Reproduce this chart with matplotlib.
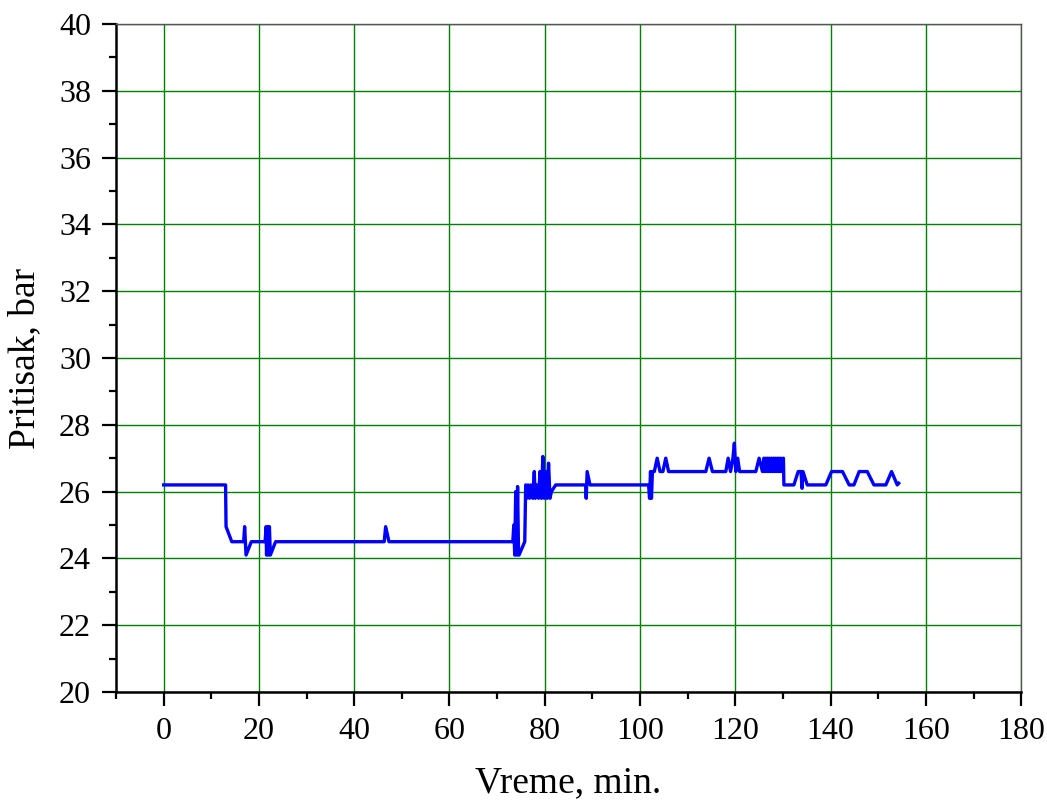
import matplotlib.pyplot as plt
from matplotlib.ticker import MultipleLocator

# pressure trace (time in min, pressure in bar)
vreme = [0, 13.0, 13.1, 14.3, 16.8, 17.0, 17.3, 18.4,
         21.3, 21.5, 21.6, 21.8, 22.0, 22.2, 22.4, 23.5,
         46.3, 46.6, 47.3,
         73.3, 73.5, 73.7, 73.9, 74.1, 74.3, 74.5, 74.6, 75.8, 76.0,
         76.2, 76.5, 76.8, 77.1, 77.5, 77.8, 78.0, 78.3, 78.7, 79.0,
         79.3, 79.6, 79.9, 80.2, 80.5, 80.8, 81.1, 81.4, 82.3,
         88.6, 88.7, 88.9, 89.5,
         101.8, 102.0, 102.2, 102.4, 102.6, 103.0, 103.6, 104.2, 104.8,
         105.4, 106.0, 113.8, 114.5, 115.2,
         118.0, 118.5, 119.0, 119.5, 119.8, 120.1, 120.5, 120.9, 121.3,
         124.3, 125.0, 125.7,
         126.0, 126.2, 126.4, 126.6, 126.8, 127.0, 127.2, 127.4, 127.6,
         127.8, 128.0, 128.2, 128.4, 128.6, 128.8, 129.0, 129.2, 129.4,
         129.6, 129.8, 130.1, 130.2,
         132.3, 133.2, 133.8, 134.0, 134.2, 135.1,
         139.0, 140.2, 142.5, 143.9, 144.9, 146.0, 147.7, 149.1,
         151.6, 152.8, 154.0, 154.3]
pritisak = [26.2, 26.2, 24.95, 24.5, 24.5, 24.95, 24.1, 24.5,
            24.5, 24.95, 24.1, 24.95, 24.1, 24.95, 24.1, 24.5,
            24.5, 24.95, 24.5,
            24.5, 25.0, 24.1, 26.0, 24.1, 26.15, 24.1, 24.1, 24.5, 26.2,
            25.8, 26.2, 25.8, 26.2, 25.8, 26.6, 25.8, 26.2, 25.8, 26.6,
            25.8, 27.05, 25.8, 26.6, 25.8, 26.85, 25.8, 26.0, 26.2,
            26.2, 25.8, 26.6, 26.2,
            26.2, 25.8, 26.6, 25.8, 26.6, 26.6, 27.0, 26.6, 26.6,
            27.0, 26.6, 26.6, 27.0, 26.6,
            26.6, 27.0, 26.6, 27.0, 27.45, 26.6, 27.0, 26.6, 26.6,
            26.6, 27.0, 26.6,
            27.0, 26.6, 27.0, 26.6, 27.0, 26.6, 27.0, 26.6, 27.0,
            26.6, 27.0, 26.6, 27.0, 26.6, 27.0, 26.6, 27.0, 26.6,
            27.0, 26.6, 27.0, 26.2,
            26.2, 26.6, 26.6, 26.1, 26.6, 26.2,
            26.2, 26.6, 26.6, 26.2, 26.2, 26.6, 26.6, 26.2,
            26.2, 26.6, 26.2, 26.25]

plt.rcParams['font.family'] = ['Liberation Serif', 'DejaVu Serif']

fig = plt.figure(figsize=(10.47, 8), dpi=100)
ax = fig.add_axes([0.1108, 0.135, 0.8645, 0.835])

ax.plot(vreme, pritisak, color='#0000ff', linewidth=2.4)

ax.set_xlim(-10, 180)
ax.set_ylim(20, 40)
ax.xaxis.set_major_locator(MultipleLocator(20))
ax.xaxis.set_minor_locator(MultipleLocator(10))
ax.yaxis.set_major_locator(MultipleLocator(2))
ax.yaxis.set_minor_locator(MultipleLocator(1))
ax.grid(True, which='major', color='#008000', linewidth=1.0)
ax.set_axisbelow(True)

ax.tick_params(which='major', direction='out', length=10, width=1.6, labelsize=23, pad=8)
ax.tick_params(which='minor', direction='out', length=5, width=1.6)
for s in ['left', 'bottom']:
    ax.spines[s].set_linewidth(1.8)
    ax.spines[s].set_color('black')
for s in ['top', 'right']:
    ax.spines[s].set_linewidth(1.0)
    ax.spines[s].set_color('#555555')

ax.set_xlabel('Vreme, min.', fontsize=27, labelpad=14)
ax.set_ylabel('Pritisak, bar', fontsize=27, labelpad=12)

fig.savefig('out.png', dpi=100)
